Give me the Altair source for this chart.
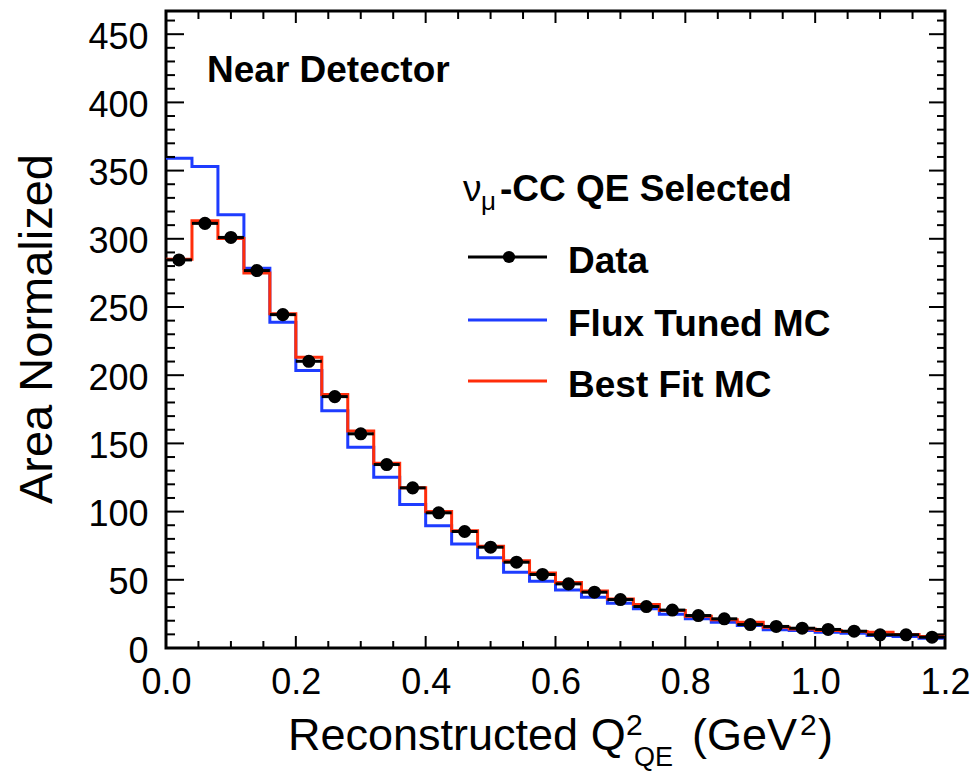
import altair as alt
import pandas as pd

FONT = "Liberation Sans"
BLUE = "#1e3cff"
RED = "#ff2d0a"

# bin edges of the histogram (GeV^2)
edges = [0.00, 0.04, 0.08, 0.12, 0.16, 0.20, 0.24, 0.28, 0.32, 0.36, 0.40,
         0.44, 0.48, 0.52, 0.56, 0.60, 0.64, 0.68, 0.72, 0.76, 0.80,
         0.84, 0.88, 0.92, 0.96, 1.00, 1.04, 1.08, 1.12, 1.16, 1.20]

data_vals = [284.5, 311.3, 301.0, 276.7, 244.4, 210.2, 184.3, 157.0, 134.5, 117.4,
             99.1, 85.4, 73.9, 62.9, 53.9, 47.0, 40.9, 35.5, 30.4, 27.8,
             23.8, 21.4, 17.2, 15.8, 14.5, 13.6, 12.3, 9.7, 9.7, 7.9]
flux_tuned = [359.0, 353.0, 317.7, 278.4, 238.8, 203.4, 174.0, 147.2, 125.2, 105.2,
              89.6, 76.3, 66.1, 55.6, 49.0, 42.6, 37.2, 32.8, 28.7, 24.8,
              21.4, 18.9, 16.5, 13.3, 12.8, 11.6, 10.9, 9.2, 8.4, 7.2]
best_fit = [285.0, 313.3, 300.3, 275.0, 245.0, 213.1, 185.8, 159.0, 135.4, 117.4,
            100.0, 86.0, 74.6, 64.0, 55.0, 48.0, 41.8, 36.0, 31.8, 27.5,
            23.3, 20.7, 18.9, 15.3, 14.0, 12.8, 12.1, 11.6, 9.9, 8.4]

x_major = [0.0, 0.2, 0.4, 0.6, 0.8, 1.0, 1.2]
x_minor = [0.05, 0.10, 0.15, 0.25, 0.30, 0.35, 0.45, 0.50, 0.55, 0.65, 0.70, 0.75,
           0.85, 0.90, 0.95, 1.05, 1.10, 1.15]
y_major = [0, 50, 100, 150, 200, 250, 300, 350, 400, 450]
y_minor = [v for v in range(10, 470, 10) if v % 50 != 0]

legend_title = ["\u03bd", "\u03bc", "-CC QE Selected"]
legend_labels = ["Data", "Flux Tuned MC", "Best Fit MC"]
panel_label = "Near Detector"
y_title = "Area Normalized"
x_title = ["Reconstructed Q", "2", "QE", "(GeV", "2", ")"]

W, H = 779, 637

xs = alt.Scale(domain=[0, 1.2], nice=False, zero=False)
ys = alt.Scale(domain=[0, 467], nice=False)
xaxis = alt.Axis(values=x_major, format=".1f", labelFontSize=36, labelFont=FONT,
                 labelColor="black", ticks=False, tickSize=0, domain=False,
                 grid=False, title=None, labelPadding=17, labelFlush=False,
                 labelOverlap=False)
yaxis = alt.Axis(values=y_major, format="d", labelFontSize=36, labelFont=FONT,
                 labelColor="black", ticks=False, tickSize=0, domain=False,
                 grid=False, title=None, labelPadding=18, labelFlush=False,
                 labelOverlap=False, labelOffset=3)


def X(f):
    return alt.X(f, type="quantitative", scale=xs, axis=xaxis)


def Y(f):
    return alt.Y(f, type="quantitative", scale=ys, axis=yaxis)


def step_df(vals):
    return pd.DataFrame({"x": edges, "y": vals + [vals[-1]]})


blue_line = alt.Chart(step_df(flux_tuned)).mark_line(
    interpolate="step-after", color=BLUE, strokeWidth=3).encode(x=X("x"), y=Y("y"))
red_line = alt.Chart(step_df(best_fit)).mark_line(
    interpolate="step-after", color=RED, strokeWidth=3).encode(x=X("x"), y=Y("y"))

data_df = pd.DataFrame({"lo": edges[:-1], "hi": edges[1:], "y": data_vals})
data_df["c"] = (data_df["lo"] + data_df["hi"]) / 2
data_bars = alt.Chart(data_df).mark_rule(color="black", strokeWidth=3).encode(
    x=X("lo"), x2="hi", y=Y("y"))
data_pts = alt.Chart(data_df).mark_point(
    filled=True, shape="circle", size=170, color="black", opacity=1).encode(
    x=X("c"), y=Y("y"))


def yticks(vals, x0, x1):
    return alt.Chart(pd.DataFrame({"v": vals})).mark_rule(
        color="black", strokeWidth=2).encode(
        y=Y("v"), x=alt.value(x0), x2=alt.value(x1))


def xticks(vals, y0, y1):
    return alt.Chart(pd.DataFrame({"v": vals})).mark_rule(
        color="black", strokeWidth=2).encode(
        x=X("v"), y=alt.value(y0), y2=alt.value(y1))


ticks = [
    yticks(y_major, 0, 18), yticks(y_minor, 0, 9),
    yticks(y_major, W - 16, W), yticks(y_minor, W - 8, W),
    xticks(x_major, H - 12, H), xticks(x_minor, H - 7, H),
    xticks(x_major, 0, 12), xticks(x_minor, 0, 8),
]

one = pd.DataFrame({"k": [0]})


def txt(t, px, py, size, bold=False, angle=0, align="left"):
    return alt.Chart(one).mark_text(
        font=FONT, fontSize=size, fontWeight="bold" if bold else "normal",
        color="black", align=align, baseline="alphabetic", angle=angle).encode(
        x=alt.value(px), y=alt.value(py), text=alt.value(t))


texts = [
    txt(panel_label, 41, 71, 37, bold=True),
    txt(legend_title[0], 297, 190, 37),
    txt(legend_title[1], 315, 199, 26),
    txt(legend_title[2], 334, 190, 37, bold=True),
    txt(legend_labels[0], 402, 262, 37, bold=True),
    txt(legend_labels[1], 402, 325, 37, bold=True),
    txt(legend_labels[2], 402, 386, 37, bold=True),
    txt(y_title, -114, 318, 47, angle=270, align="center"),
    txt(x_title[0], 122, 739, 45),
    txt(x_title[1], 460, 724, 30),
    txt(x_title[2], 468, 755, 27),
    txt(x_title[3], 526, 739, 45),
    txt(x_title[4], 634, 724, 30),
    txt(x_title[5], 652, 739, 45),
]


def leg_line(py, color):
    return alt.Chart(one).mark_rule(color=color, strokeWidth=3).encode(
        x=alt.value(302), x2=alt.value(381), y=alt.value(py))


legend = [
    leg_line(246, "black"), leg_line(309, BLUE), leg_line(370, RED),
    alt.Chart(one).mark_point(filled=True, shape="circle", size=150,
                              color="black", opacity=1).encode(
        x=alt.value(343), y=alt.value(246)),
]

chart = alt.layer(blue_line, red_line, data_bars, data_pts, *ticks, *texts, *legend).properties(
    width=W, height=H,
    padding={"left": 158, "top": 3, "right": 26, "bottom": 125},
    autosize=alt.AutoSizeParams(type="none"),
    background="white",
).configure_view(stroke="black", strokeWidth=3)

chart.save("out.html", embed_options={"renderer": "svg", "actions": False})
